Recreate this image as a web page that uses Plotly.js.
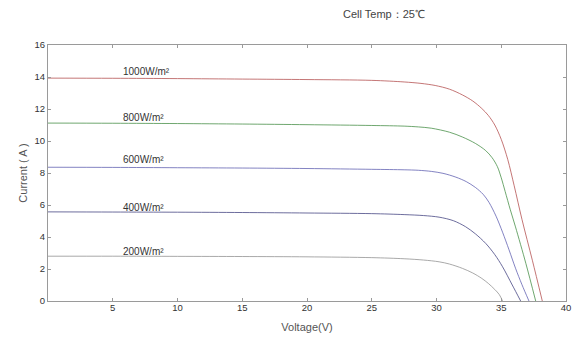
<!DOCTYPE html>
<html>
<head>
<meta charset="utf-8">
<script src="https://cdn.plot.ly/plotly-3.0.1.min.js"></script>
<style>html,body{margin:0;padding:0;background:#fff;}#chart{width:581px;height:340px;}</style>
</head>
<body>
<div id="chart"></div>
<script>
// Irradiance levels (series)
const seriesNames = ["1000W/m²", "800W/m²", "600W/m²", "400W/m²", "200W/m²"];
const seriesColors = ["#b04848", "#3f8a3f", "#5a5aae", "#3c3c7c", "#8c8c8c"];

// Voltage (V) and current (A) per series
const v1000 = [0, 5, 10, 15, 20, 25, 27.5, 28.8, 29.9, 31, 32, 32.8, 33.5, 34, 34.5, 35, 35.5, 36, 36.6, 37.4, 38.17];
const i1000 = [13.93, 13.92, 13.90, 13.87, 13.84, 13.79, 13.69, 13.6, 13.47, 13.24, 12.88, 12.5, 12.03, 11.6, 11.0, 10.1, 8.85, 7.2, 5.1, 2.55, 0];

const v800 = [0, 5, 10, 15, 20, 25, 27.5, 28.6, 29.6, 31, 32, 33, 33.8, 34.3, 34.7, 35.0, 35.3, 35.7, 36.1, 36.9, 37.66];
const i800 = [11.12, 11.11, 11.09, 11.06, 11.02, 10.97, 10.93, 10.88, 10.8, 10.55, 10.25, 9.85, 9.4, 8.95, 8.4, 7.7, 6.85, 5.7, 4.63, 2.35, 0];

const v600 = [0, 5, 10, 15, 20, 25, 27.5, 28.6, 29.6, 30.5, 31.5, 32.3, 33.0, 33.6, 34.05, 34.6, 35.1, 35.6, 36.1, 36.6, 37.14];
const i600 = [8.36, 8.35, 8.33, 8.31, 8.28, 8.23, 8.2, 8.17, 8.1, 7.98, 7.74, 7.46, 7.1, 6.67, 6.17, 5.3, 4.3, 3.2, 2.05, 1.02, 0];

const v400 = [0, 5, 10, 15, 20, 25, 27.5, 29, 30.2, 31.3, 32.25, 33.0, 33.8, 34.5, 35.1, 35.85, 36.5];
const i400 = [5.57, 5.56, 5.55, 5.53, 5.5, 5.46, 5.4, 5.34, 5.24, 5.02, 4.64, 4.2, 3.6, 2.9, 2.14, 1.0, 0];

const v200 = [0, 5, 10, 15, 20, 25, 27.5, 29, 30.2, 31, 32, 32.8, 33.5, 34.0, 34.5, 34.85, 35.1];
const i200 = [2.80, 2.80, 2.79, 2.78, 2.76, 2.71, 2.64, 2.56, 2.45, 2.31, 2.04, 1.75, 1.41, 1.1, 0.72, 0.4, 0];

// Label anchor positions (data coords) for series labels
const labelV = [5.6, 5.6, 5.6, 5.6, 5.6];
const labelI = [14.32, 11.48, 8.84, 5.87, 3.11];

const xTicks = [5, 10, 15, 20, 25, 30, 35, 40];
const yTicks = [0, 2, 4, 6, 8, 10, 12, 14, 16];

const vs = [v1000, v800, v600, v400, v200];
const is = [i1000, i800, i600, i400, i200];

const traces = vs.map((v, k) => ({
  x: v, y: is[k], type: "scatter", mode: "lines", name: seriesNames[k],
  line: {color: seriesColors[k], width: 0.75, shape: "spline", smoothing: 0.9},
  hoverinfo: "skip"
}));

const fontFam = "Liberation Sans, Arial, sans-serif";
const annotations = seriesNames.map((n, k) => ({
  x: labelV[k], y: labelI[k], xref: "x", yref: "y", text: n, showarrow: false,
  xanchor: "left", yanchor: "middle",
  font: {family: fontFam, size: 10, color: "#333"}
}));
annotations.push({
  x: (341 - 48) / (566.5 - 48), y: 1 + (45 - 14) / (301 - 45),
  xref: "paper", yref: "paper", text: "Cell Temp：25℃", showarrow: false,
  xanchor: "left", yanchor: "middle",
  font: {family: fontFam, size: 11, color: "#444"}
});

const axisCommon = {
  showgrid: false, zeroline: false, showline: true, linecolor: "#9a9a9a", linewidth: 1,
  mirror: "ticks", ticks: "inside", ticklen: 3, tickcolor: "#9a9a9a", tickwidth: 1,
  tickfont: {family: fontFam, size: 9.5, color: "#333"}
};

const layout = {
  width: 581, height: 340,
  margin: {l: 48, r: 14.5, t: 45, b: 39, pad: 0},
  paper_bgcolor: "#ffffff", plot_bgcolor: "#ffffff",
  showlegend: false,
  xaxis: Object.assign({}, axisCommon, {
    range: [0, 40], tickvals: xTicks, ticktext: xTicks.map(String), ticklabelstandoff: -2,
    title: {text: "Voltage(V)", standoff: 10, font: {family: fontFam, size: 11, color: "#555"}}
  }),
  yaxis: Object.assign({}, axisCommon, {
    range: [0, 16], tickvals: yTicks, ticktext: yTicks.map(String),
    title: {text: "Current ( A )", standoff: 4, font: {family: fontFam, size: 11, color: "#555"}}
  }),
  annotations: annotations
};

Plotly.newPlot("chart", traces, layout, {staticPlot: true, displayModeBar: false});
</script>
</body>
</html>
